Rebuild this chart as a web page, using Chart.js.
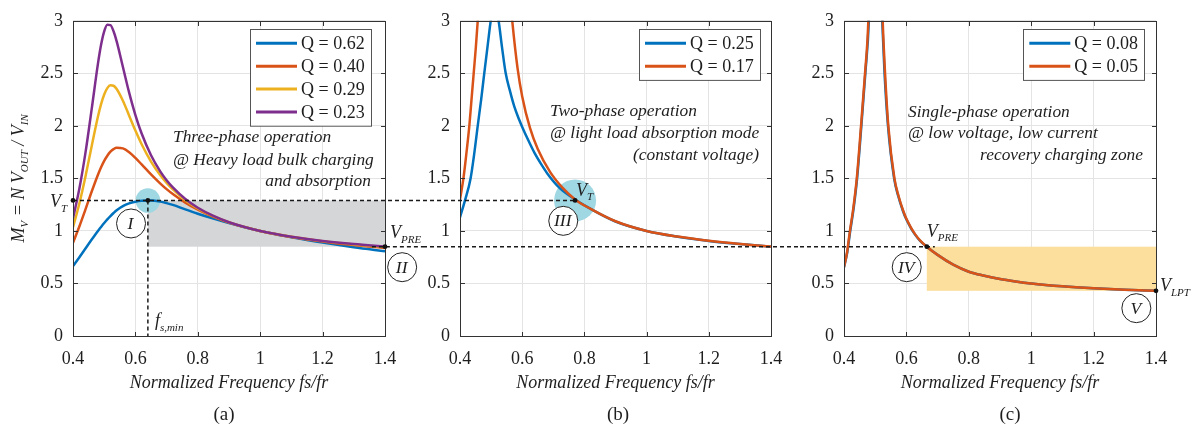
<!DOCTYPE html>
<html><head><meta charset="utf-8">
<script src="https://cdn.jsdelivr.net/npm/chart.js@4.4.1/dist/chart.umd.min.js"></script>
<style>
html,body{margin:0;padding:0;background:#fff;}
#wrap{position:relative;width:1197px;height:430px;overflow:hidden;background:#fff;}
canvas{position:absolute;top:0;}
</style></head><body>
<div id="wrap">
<canvas id="ca" width="423" height="430" style="left:0px;width:423px;height:430px"></canvas>
<canvas id="cb" width="377" height="430" style="left:423px;width:377px;height:430px"></canvas>
<canvas id="cc" width="397" height="430" style="left:800px;width:397px;height:430px"></canvas>
</div>
<script>
// ---------- data ----------
const xTicks = [0.4, 0.6, 0.8, 1, 1.2, 1.4];
const yTicks = [0, 0.5, 1, 1.5, 2, 2.5, 3];

// panel (a)
const freqA = [0.40,0.42,0.44,0.46,0.48,0.49,0.50,0.51,0.52,0.53,0.54,0.56,0.58,0.60,0.62,0.65,0.68,0.70,0.72,0.76,0.80,0.85,0.90,0.95,1.00,1.05,1.10,1.20,1.30,1.40];
const gainQ062 = [0.666,0.748,0.833,0.918,1.000,1.038,1.075,1.110,1.142,1.171,1.197,1.236,1.262,1.278,1.287,1.290,1.279,1.265,1.248,1.205,1.164,1.117,1.074,1.035,1.000,0.968,0.940,0.889,0.845,0.807];
const gainQ040 = [0.888,1.040,1.205,1.375,1.535,1.606,1.667,1.716,1.754,1.779,1.792,1.786,1.750,1.695,1.633,1.538,1.451,1.398,1.351,1.269,1.202,1.134,1.080,1.036,1.000,0.969,0.943,0.900,0.865,0.837];
const gainQ029 = [1.035,1.257,1.519,1.809,2.089,2.207,2.299,2.359,2.386,2.382,2.351,2.239,2.097,1.955,1.825,1.660,1.529,1.457,1.395,1.293,1.215,1.140,1.082,1.037,1.000,0.970,0.944,0.903,0.872,0.847];
const gainQ023 = [1.121,1.396,1.745,2.162,2.592,2.771,2.899,2.962,2.959,2.900,2.804,2.560,2.316,2.103,1.927,1.720,1.565,1.483,1.414,1.304,1.221,1.143,1.083,1.037,1.000,0.970,0.945,0.905,0.875,0.852];

// panel (b)
const freqQ025 = [0.40,0.417,0.434,0.446,0.457,0.468,0.478,0.49,0.50,0.512,0.523,0.535,0.547,0.56,0.575,0.59,0.60,0.62,0.64,0.66,0.68,0.72,0.77,0.82,0.90,1.00,1.10,1.20,1.30,1.40];
const gainQ025 = [1.13,1.30,1.50,1.74,2.00,2.25,2.50,2.79,3.02,3.12,3.02,2.75,2.50,2.34,2.18,2.06,1.99,1.86,1.74,1.64,1.55,1.41,1.30,1.21,1.09,1.00,0.945,0.905,0.875,0.850];
const freqQ017 = [0.40,0.411,0.421,0.430,0.437,0.444,0.451,0.457,0.47,0.49,0.51,0.53,0.55,0.568,0.585,0.60,0.625,0.65,0.69,0.73,0.77,0.82,0.90,1.00,1.10,1.20,1.30,1.40];
const gainQ017 = [1.30,1.50,1.75,2.00,2.25,2.50,2.75,3.00,3.60,4.30,4.60,4.30,3.60,3.00,2.55,2.28,1.98,1.78,1.56,1.41,1.30,1.21,1.092,1.00,0.946,0.906,0.876,0.852];

// panel (c)
const freqQ008 = [0.40,0.41,0.42,0.431,0.442,0.4556,0.4684,0.4797,0.489,0.50,0.511,0.5225,0.530,0.541,0.5606,0.574,0.589,0.599,0.614,0.629,0.644,0.6654,0.70,0.75,0.80,0.85,0.90,0.95,1.00,1.10,1.20,1.30,1.40];
const gainQ008 = [0.655,0.79,1.00,1.22,1.50,2.00,2.50,3.00,4.00,5.00,4.00,3.00,2.50,2.00,1.50,1.33,1.19,1.115,1.03,0.96,0.905,0.85,0.772,0.679,0.612,0.573,0.542,0.519,0.50,0.473,0.454,0.440,0.430];
const freqQ005 = [0.40,0.41,0.419,0.43,0.441,0.4546,0.4674,0.478,0.488,0.50,0.512,0.524,0.5316,0.542,0.5616,0.575,0.59,0.60,0.615,0.63,0.645,0.6654,0.70,0.75,0.80,0.85,0.90,0.95,1.00,1.10,1.20,1.30,1.40];
const gainQ005 = [0.655,0.80,1.00,1.22,1.50,2.00,2.50,3.00,4.20,5.50,4.20,3.00,2.50,2.00,1.50,1.33,1.19,1.115,1.03,0.96,0.905,0.85,0.772,0.679,0.612,0.573,0.542,0.519,0.50,0.473,0.454,0.440,0.430];

// operating points
const VT = 1.29, VPRE = 0.85, VLPT = 0.43;
const fsMin = 0.64, fVTb = 0.77, fPREc = 0.6654;

// ---------- styling helpers ----------
const COL = {blue:'#0072BD', orange:'#D95319', yellow:'#EDB120', purple:'#7E2F8E'};
const SERIF = '"Liberation Serif","Times New Roman",Times,serif';
const TXT = '#1e1e1e';
function f(size, italic){ return (italic ? 'italic ' : '') + size + 'px ' + SERIF; }

function richText(ctx, x, y, parts, align, main, sub){
  main = main || 18; sub = sub || 11;
  let w = 0;
  parts.forEach(p => { ctx.font = f(p[1] ? sub : main, true); w += ctx.measureText(p[0]).width; });
  let cx = align === 'right' ? x - w : (align === 'center' ? x - w / 2 : x);
  ctx.textAlign = 'left'; ctx.textBaseline = 'alphabetic'; ctx.fillStyle = TXT;
  parts.forEach(p => {
    ctx.font = f(p[1] ? sub : main, true);
    ctx.fillText(p[0], cx, y + (p[1] ? 4.5 : 0));
    cx += ctx.measureText(p[0]).width;
  });
}
function dashed(ctx, x1, y1, x2, y2){
  ctx.save(); ctx.setLineDash([4, 3]); ctx.lineWidth = 1.5; ctx.strokeStyle = '#1a1a1a';
  ctx.beginPath(); ctx.moveTo(x1, y1); ctx.lineTo(x2, y2); ctx.stroke(); ctx.restore();
}
function dot(ctx, x, y){
  ctx.save(); ctx.beginPath(); ctx.arc(x, y, 2.4, 0, Math.PI * 2); ctx.fillStyle = '#111'; ctx.fill(); ctx.restore();
}
function disc(ctx, x, y, r, color){
  ctx.save(); ctx.beginPath(); ctx.arc(x, y, r, 0, Math.PI * 2); ctx.fillStyle = color; ctx.fill(); ctx.restore();
}
function roman(ctx, x, y, t){
  ctx.save(); ctx.beginPath(); ctx.arc(x, y, 14.5, 0, Math.PI * 2);
  ctx.fillStyle = '#fff'; ctx.fill(); ctx.lineWidth = 1; ctx.strokeStyle = '#222'; ctx.stroke();
  ctx.font = f(17.5, true); ctx.fillStyle = TXT; ctx.textAlign = 'center'; ctx.textBaseline = 'middle';
  ctx.fillText(t, x - 0.5, y + 1); ctx.restore();
}
function drawFrame(chart){
  const {ctx, chartArea: a, scales: {x, y}} = chart;
  ctx.save(); ctx.strokeStyle = '#333'; ctx.lineWidth = 1;
  const L = Math.round(a.left) + 0.5, R = Math.round(a.right) + 0.5, T = Math.round(a.top) + 0.5, B = Math.round(a.bottom) + 0.5;
  ctx.strokeRect(L, T, R - L, B - T);
  const tl = 4.5;
  ctx.beginPath();
  x.ticks.forEach(t => { const p = Math.round(x.getPixelForValue(t.value)) + 0.5;
    ctx.moveTo(p, B); ctx.lineTo(p, B - tl); ctx.moveTo(p, T); ctx.lineTo(p, T + tl); });
  y.ticks.forEach(t => { const p = Math.round(y.getPixelForValue(t.value)) + 0.5;
    ctx.moveTo(L, p); ctx.lineTo(L + tl, p); ctx.moveTo(R, p); ctx.lineTo(R - tl, p); });
  ctx.stroke(); ctx.restore();
}
function drawLegend(chart, marginR){
  const {ctx, chartArea: a} = chart;
  const ds = chart.data.datasets;
  const w = 121, rowH = 22.9, top = a.top + 8.5;
  const h = 28 + rowH * (ds.length - 1);
  const left = a.right - marginR - w;
  ctx.save();
  ctx.fillStyle = '#fff'; ctx.fillRect(left, top, w, h);
  ctx.strokeStyle = '#555'; ctx.lineWidth = 1; ctx.strokeRect(Math.round(left) + 0.5, Math.round(top) + 0.5, w, h);
  ds.forEach((d, i) => {
    const yy = top + 14 + i * rowH;
    ctx.strokeStyle = d.borderColor; ctx.lineWidth = 3;
    ctx.beginPath(); ctx.moveTo(left + 6, yy); ctx.lineTo(left + 47, yy); ctx.stroke();
    ctx.font = f(18, false); ctx.fillStyle = TXT; ctx.textAlign = 'left'; ctx.textBaseline = 'middle';
    ctx.fillText(d.label, left + 51, yy + 1);
  });
  ctx.restore();
}
function drawAnnot(chart, an){
  const {ctx, chartArea: a} = chart;
  ctx.save(); ctx.font = f(17.4, true); ctx.fillStyle = TXT; ctx.textBaseline = 'middle';
  an.lines.forEach((ln, i) => {
    if (ln.right) { ctx.textAlign = 'right'; ctx.fillText(ln.t, a.right - an.right, an.ys[i]); }
    else { ctx.textAlign = 'left'; ctx.fillText(ln.t, a.left + an.left, an.ys[i]); }
  });
  ctx.restore();
}
function drawTitles(chart, P){
  const {ctx, chartArea: a} = chart;
  const cx = (a.left + a.right) / 2;
  ctx.save(); ctx.fillStyle = TXT; ctx.textAlign = 'center'; ctx.textBaseline = 'middle';
  ctx.font = f(18, true); ctx.fillText('Normalized Frequency fs/fr', cx, 383);
  ctx.font = f(19, false); ctx.fillText(P.subtitle, cx + P.subDx, 415);
  ctx.restore();
  if (P.yTitle) {
    ctx.save(); ctx.translate(23.5, (a.top + a.bottom) / 2); ctx.rotate(-Math.PI / 2);
    richText(ctx, 0, 0, [['M', 0], ['V', 1], [' = N V', 0], ['OUT', 1], [' / V', 0], ['IN', 1]], 'center', 18, 11);
    ctx.restore();
  }
}

// ---------- panels ----------
const panels = [
  {
    id: 'ca', yW: 73, padR: 38, legendR: 14, subtitle: '(a)', subDx: -5, yTitle: true,
    series: [
      {label: 'Q = 0.62', x: freqA, y: gainQ062, color: COL.blue},
      {label: 'Q = 0.40', x: freqA, y: gainQ040, color: COL.orange},
      {label: 'Q = 0.29', x: freqA, y: gainQ029, color: COL.yellow},
      {label: 'Q = 0.23', x: freqA, y: gainQ023, color: COL.purple}
    ],
    annot: {left: 100, right: 14, ys: [137.7, 160, 181],
      lines: [{t: 'Three-phase operation'}, {t: '@ Heavy load bulk charging'}, {t: 'and absorption', right: true}]},
    before(ctx, c, X, Y){
      ctx.save(); ctx.fillStyle = '#d5d6d8';
      ctx.fillRect(X(fsMin), Y(VT), X(1.4) - X(fsMin), Y(VPRE) - Y(VT)); ctx.restore();
      disc(ctx, X(fsMin), Y(VT), 12.3, '#9fd7e2');
    },
    after(ctx, c, X, Y){
      const W = c.width, a = c.chartArea;
      dashed(ctx, a.left, Y(VT), W, Y(VT));
      dashed(ctx, X(fsMin), Y(VT), X(fsMin), Y(0));
      dashed(ctx, X(1.358), Y(VPRE), W, Y(VPRE));
      dot(ctx, X(0.4), Y(VT)); dot(ctx, X(fsMin), Y(VT)); dot(ctx, X(1.4), Y(VPRE));
      richText(ctx, a.left - 23, Y(VT) + 7, [['V', 0], ['T', 1]], 'left');
      richText(ctx, a.right + 5, Y(VPRE) - 8.5, [['V', 0], ['PRE', 1]], 'left');
      richText(ctx, X(fsMin) + 7, Y(0) - 10, [['f', 0], ['s,min', 1]], 'left');
      roman(ctx, X(0.586), Y(1.071), 'I');
      roman(ctx, X(1.455), Y(0.655), 'II');
    }
  },
  {
    id: 'cb', yW: 37, padR: 29, legendR: 11, subtitle: '(b)', subDx: 2.5,
    series: [
      {label: 'Q = 0.25', x: freqQ025, y: gainQ025, color: COL.blue},
      {label: 'Q = 0.17', x: freqQ017, y: gainQ017, color: COL.orange}
    ],
    annot: {left: 90, right: 12, ys: [111.7, 133.3, 155],
      lines: [{t: 'Two-phase operation'}, {t: '@ light load absorption mode'}, {t: '(constant voltage)', right: true}]},
    before(ctx, c, X, Y){
      disc(ctx, X(fVTb), Y(VT), 21, '#9fd7e2');
    },
    after(ctx, c, X, Y){
      const W = c.width;
      dashed(ctx, 0, Y(VT), X(fVTb), Y(VT));
      dashed(ctx, 0, Y(VPRE), W, Y(VPRE));
      dot(ctx, X(fVTb), Y(VT));
      richText(ctx, X(fVTb) + 1, Y(VT) - 4.5, [['V', 0], ['T', 1]], 'left');
      roman(ctx, X(0.732), Y(1.096), 'III');
    }
  },
  {
    id: 'cc', yW: 44, padR: 41, legendR: 11.7, subtitle: '(c)', subDx: 10,
    series: [
      {label: 'Q = 0.08', x: freqQ008, y: gainQ008, color: COL.blue},
      {label: 'Q = 0.05', x: freqQ005, y: gainQ005, color: COL.orange}
    ],
    annot: {left: 64, right: 13, ys: [112, 133.3, 155],
      lines: [{t: 'Single-phase operation'}, {t: '@ low voltage, low current'}, {t: 'recovery charging zone', right: true}]},
    before(ctx, c, X, Y){
      ctx.save(); ctx.fillStyle = '#fcdf9d';
      ctx.fillRect(X(fPREc), Y(VPRE), X(1.4) - X(fPREc), Y(VLPT) - Y(VPRE)); ctx.restore();
    },
    after(ctx, c, X, Y){
      dashed(ctx, 0, Y(VPRE), X(fPREc) + 8, Y(VPRE));
      dot(ctx, X(fPREc), Y(VPRE)); dot(ctx, X(1.4), Y(VLPT));
      richText(ctx, X(fPREc), Y(VPRE) - 10, [['V', 0], ['PRE', 1]], 'left');
      richText(ctx, X(1.4) + 4, Y(VLPT) + 0.5, [['V', 0], ['LPT', 1]], 'left');
      roman(ctx, X(0.601), Y(0.655), 'IV');
      roman(ctx, X(1.337), Y(0.265), 'V');
    }
  }
];

panels.forEach(P => {
  const n = P.series.length;
  const datasets = P.series.map((s, i) => ({
    label: s.label,
    data: s.x.map((xv, k) => ({x: xv, y: s.y[k]})),
    borderColor: s.color, backgroundColor: s.color,
    borderWidth: 2.5, pointRadius: 0, fill: false,
    cubicInterpolationMode: 'monotone', order: n - 1 - i
  }));
  const decor = {
    id: 'decor' + P.id,
    beforeDatasetsDraw(c){ const X = v => c.scales.x.getPixelForValue(v), Y = v => c.scales.y.getPixelForValue(v);
      P.before(c.ctx, c, X, Y); },
    afterDatasetsDraw(c){
      const X = v => c.scales.x.getPixelForValue(v), Y = v => c.scales.y.getPixelForValue(v);
      drawFrame(c);
      drawAnnot(c, P.annot);
      P.after(c.ctx, c, X, Y);
      drawLegend(c, P.legendR);
      drawTitles(c, P);
    }
  };
  new Chart(document.getElementById(P.id), {
    type: 'line',
    data: {datasets},
    plugins: [decor],
    options: {
      responsive: false, animation: false, devicePixelRatio: 1,
      layout: {padding: {top: 11, right: P.padR, left: 0, bottom: 0}},
      plugins: {legend: {display: false}, tooltip: {enabled: false}},
      scales: {
        x: {
          type: 'linear', min: 0.4, max: 1.4,
          afterBuildTicks: s => { s.ticks = xTicks.map(v => ({value: v})); },
          afterFit: s => { s.height = 94; },
          grid: {color: '#e4e4e4', drawTicks: false, lineWidth: 1},
          border: {display: false},
          ticks: {padding: 12.5, color: TXT, font: {family: SERIF, size: 18}, maxRotation: 0, autoSkip: false,
                  callback: v => String(v)}
        },
        y: {
          type: 'linear', min: 0, max: 3,
          afterBuildTicks: s => { s.ticks = yTicks.map(v => ({value: v})); },
          afterFit: s => { s.width = P.yW; },
          grid: {color: '#e4e4e4', drawTicks: false, lineWidth: 1},
          border: {display: false},
          ticks: {padding: 10, color: TXT, font: {family: SERIF, size: 18}, autoSkip: false,
                  callback: v => String(v)}
        }
      }
    }
  });
});
</script>
</body></html>
